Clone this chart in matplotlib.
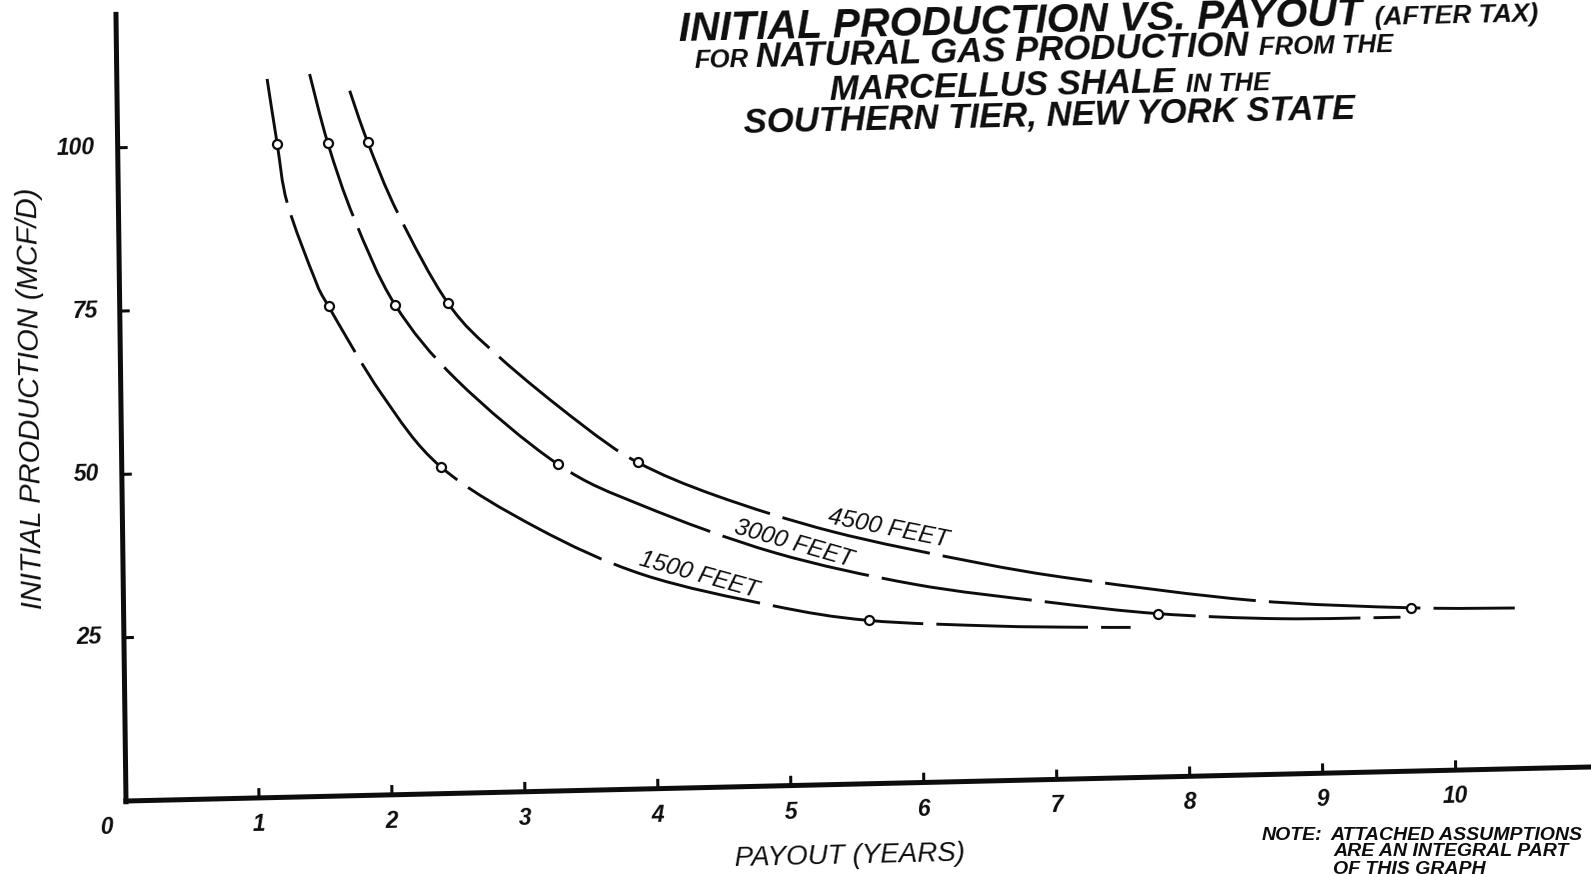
import numpy as np
import matplotlib
matplotlib.use('Agg')
import matplotlib.pyplot as plt
from matplotlib.transforms import Affine2D
from matplotlib.path import Path
from matplotlib.patches import PathPatch

plt.rcParams['font.family'] = ['Liberation Sans', 'DejaVu Sans']

# values: payout (years) vs initial production (MCF/D)
labels = ['1500 FEET', '3000 FEET', '4500 FEET']

payout_1500 = [1.13, 1.20, 1.27, 1.47, 1.57, 1.96, 2.40, 3.12, 3.91, 4.88, 5.60, 6.54, 7.19, 7.57]
prod_1500 = [110.0, 100, 90.9, 79.2, 75, 61.4, 50, 40.3, 32.8, 27.6, 25, 23.7, 23.2, 23.0]

payout_3000 = [1.45, 1.58, 1.77, 2.07, 2.53, 3.28, 3.92, 4.90, 5.94, 6.94, 7.78, 8.69, 9.60]
prod_3000 = [110.6, 100, 88.4, 75, 63.2, 50, 43.3, 35.7, 30.4, 27.2, 25, 23.8, 23.6]

payout_4500 = [1.75, 1.88, 2.10, 2.47, 2.85, 3.45, 3.88, 4.47, 5.34, 6.39, 7.19, 8.49, 9.68, 10.46]
prod_4500 = [107.9, 100, 89.0, 75, 66.6, 56.2, 50, 44.6, 38.7, 33.6, 30.5, 26.7, 25, 24.6]

# the open circles on each curve
marker_prod = [100, 75, 50, 25]
marker_payout_1500 = [1.20, 1.57, 2.40, 5.60]
marker_payout_3000 = [1.58, 2.07, 3.28, 7.78]
marker_payout_4500 = [1.88, 2.47, 3.88, 9.68]

x_ticks = [1, 2, 3, 4, 5, 6, 7, 8, 9, 10]
y_ticks = [25, 50, 75, 100]

W, H = 1591, 874
fig = plt.figure(figsize=(W / 100, H / 100), dpi=100, facecolor='white')
ax = fig.add_axes([0, 0, 1, 1])
ax.set_xlim(0, W)
ax.set_ylim(H, 0)
ax.axis('off')

# the scan is slightly skewed, so the chart frame is mapped onto the page with a small tilt
tilt = 1.33
ax_tilt = np.radians(tilt)
ay_tilt = np.radians(0.73)
px_year = 133.0
px_unit = 6.533
ox, oy = 126, 801
chart = Affine2D(np.array([[px_year * np.cos(ax_tilt), -px_unit * np.sin(ay_tilt), ox],
                           [-px_year * np.sin(ax_tilt), -px_unit * np.cos(ay_tilt), oy],
                           [0, 0, 1]])) + ax.transData

ink = '#0d0d0d'

# axes
ax.plot([-0.02, 11.3], [0, 0], transform=chart, color=ink, lw=3.6, solid_capstyle='butt')
ax.plot([0, 0], [-0.5, 120.8], transform=chart, color=ink, lw=3.6, solid_capstyle='butt')
for k in x_ticks:
    ax.plot([k, k], [0, 1.5], transform=chart, color=ink, lw=2.2, solid_capstyle='butt')
for v in y_ticks:
    ax.plot([0, 0.075], [v, v], transform=chart, color=ink, lw=2.2, solid_capstyle='butt')

# tick labels
tick_font = dict(fontsize=16.5, fontweight='bold', fontstyle='italic', color=ink)
for k in x_ticks:
    ax.annotate(str(k), xy=(k, 0), xycoords=chart, xytext=(0, -19), textcoords='offset points',
                ha='center', va='center', rotation=tilt, **tick_font)
ax.annotate('0', xy=(0, 0), xycoords=chart, xytext=(-14, -19), textcoords='offset points',
            ha='center', va='center', rotation=tilt, **tick_font)
for v in y_ticks:
    ax.annotate(str(v), xy=(0, v), xycoords=chart, xytext=(-16, 0), textcoords='offset points',
                ha='right', va='center', rotation=tilt, **tick_font)


def smooth_path(xs, ys):
    # Catmull-Rom curve through the read points, drawn as cubic Bezier segments
    p = np.column_stack([xs, ys]).astype(float)
    ext = np.vstack([p[0], p, p[-1]])
    verts, codes = [p[0]], [Path.MOVETO]
    for i in range(len(p) - 1):
        p0, p1, p2, p3 = ext[i], ext[i + 1], ext[i + 2], ext[i + 3]
        verts += [p1 + (p2 - p0) / 6, p2 - (p3 - p1) / 6, p2]
        codes += [Path.CURVE4] * 3
    return Path(verts, codes)


# curves
series = [(payout_1500, prod_1500, marker_payout_1500, 9),
          (payout_3000, prod_3000, marker_payout_3000, 1),
          (payout_4500, prod_4500, marker_payout_4500, 7)]
for xs, ys, mx, off in series:
    ax.add_patch(PathPatch(smooth_path(xs, ys), transform=chart, fill=False, edgecolor=ink,
                           lw=2.1, linestyle=(off, (52, 4.5)), capstyle='butt'))
    ax.plot(mx, marker_prod, transform=chart, linestyle='none', marker='o', ms=6.5,
            mfc='white', mec=ink, mew=1.6, zorder=5)

# curve labels
label_pos = [(699, 575, -15.4), (794, 544, -16.0), (888, 529, -11.2)]
for lab, (lx, ly, rot) in zip(labels, label_pos):
    ax.text(lx, ly, lab, fontsize=17.5, fontstyle='italic', color=ink, rotation=rot,
            rotation_mode='anchor', ha='center', va='center')

# axis titles
ax.text(31, 398, 'INITIAL PRODUCTION (MCF/D)', fontsize=21, fontstyle='italic', color=ink,
        rotation=90 + 0.7, ha='center', va='center')
ax.text(850, 856, 'PAYOUT (YEARS)', fontsize=20, fontstyle='italic', color=ink,
        rotation=tilt, ha='center', va='center')

# title with mixed sizes, laid out piece by piece along the tilted baseline
renderer = fig.canvas.get_renderer()
ct, st = np.cos(ax_tilt), np.sin(ax_tilt)


def put_line(pieces, x, base_y, align='center'):
    texts, widths = [], []
    for s, size in pieces:
        t = ax.text(0, 0, s, fontsize=size, fontweight='bold', fontstyle='italic', color=ink,
                    ha='left', va='baseline', rotation_mode='anchor')
        texts.append(t)
        widths.append(t.get_window_extent(renderer).width)
    gaps = [pieces[i][1] * 0.3 / 0.72 for i in range(len(pieces) - 1)]
    total = sum(widths) + sum(gaps)
    if align == 'center':
        sx, sy = x - total / 2 * ct, base_y + total / 2 * st
    else:
        sx, sy = x, base_y + total / 2 * st
    cum = 0.0
    for i, t in enumerate(texts):
        t.set_position((sx + cum * ct, sy - cum * st))
        t.set_rotation(tilt)
        cum += widths[i] + (gaps[i] if i < len(gaps) else 0)


put_line([('INITIAL PRODUCTION VS. PAYOUT', 29.5), ('(AFTER TAX)', 19)], 679, 31, align='left')
put_line([('FOR', 18.5), ('NATURAL GAS PRODUCTION', 25), ('FROM THE', 18.5)], 1044, 60)
put_line([('MARCELLUS SHALE', 25), ('IN THE', 18.5)], 1050, 95)
put_line([('SOUTHERN TIER, NEW YORK STATE', 25)], 1050, 125)

# note in the lower right corner (last line runs off the page as in the scan)
note_font = dict(fontsize=14, fontweight='bold', fontstyle='italic', color=ink,
                 ha='left', va='center')
ax.text(1262, 836, 'NOTE:', **note_font)
ax.text(1330, 835, 'ATTACHED ASSUMPTIONS', **note_font)
ax.text(1333, 852, 'ARE AN INTEGRAL PART', **note_font)
ax.text(1333, 869, 'OF THIS GRAPH', **note_font)

fig.savefig('out.png', dpi=100, facecolor='white')
